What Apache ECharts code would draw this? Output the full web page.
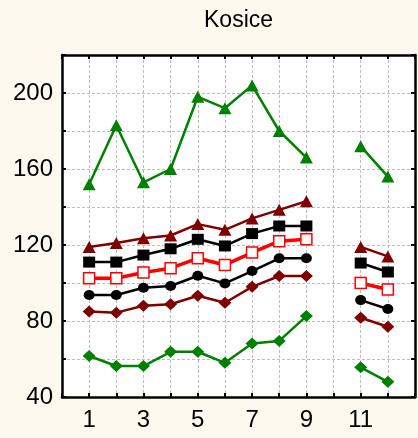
<!DOCTYPE html>
<html><head><meta charset="utf-8">
<script src="https://cdn.jsdelivr.net/npm/echarts@6/dist/echarts.min.js"></script>
<style>html,body{margin:0;padding:0;background:#fdf9ee}#c{width:418px;height:438px}</style>
</head><body><div id="c"></div>
<script>
const months = [1,2,3,4,5,6,7,8,9,10,11,12];
const xTickLabels = [1,3,5,7,9,11];
const yTickLabels = [40,80,120,160,200];
const greenTri   = [152,183,153,160,198,192,204,180,166,null,172,156];
const redTri     = [119,121,123.5,125,131,128,134,138.5,143,null,119,114];
const blackSq    = [111,111,114.7,118,123,119.5,126,130,130,null,110.5,105.8];
const redOpenSq  = [102.5,102.5,105.5,107.8,113,109.5,116,122,123,null,100,96.6];
const blackCirc  = [93.7,93.7,97.5,98.4,103.8,99.8,106.3,113,113,null,91,86.3];
const redDiam    = [85,84.4,88,88.8,93.3,89.6,98,103.7,103.7,null,81.7,77];
const greenDiam  = [61.6,56.3,56.3,63.8,63.8,58,68.2,69.5,82.6,null,55.6,48];

function pairs(vals){ return months.map((m,i)=>[m, vals[i]==null?'-':vals[i]]); }
function mk(name, vals, color, symbol, size, width, fill){
  return {name, type:'line', data:pairs(vals), connectNulls:false, symbol, symbolSize:size,
    lineStyle:{color, width}, itemStyle:{color: fill||color, borderColor:color, borderWidth: fill?1.5:0},
    emphasis:{disabled:true}, animation:false};
}
const chart = echarts.init(document.getElementById('c'));
const font = 'Liberation Sans, Arial, sans-serif';
const axisBase = {
  min:0, max:13, interval:1,
  axisLine:{show:true, onZero:false, lineStyle:{color:'#000', width:2.5}},
  axisTick:{show:true, inside:true, length:4, lineStyle:{color:'#000', width:2}},
};
chart.setOption({
  backgroundColor:'#fdf9ee',
  animation:false,
  title:{text:'Kosice', left:199, top:4,
    textStyle:{fontFamily:font, fontSize:23, fontWeight:'normal', color:'#000'}},
  grid:{left:62, right:-2, top:55, bottom:41, show:true, backgroundColor:'#fff', borderWidth:0},
  xAxis:[
    Object.assign({type:'value', position:'bottom',
      axisLabel:{fontFamily:font, fontSize:24, color:'#000', margin:11,
        formatter:v=> xTickLabels.includes(v)? String(v):''},
      splitLine:{show:true, lineStyle:{color:'#bdbdbd', type:[3,2], width:1}}}, axisBase),
    Object.assign({type:'value', position:'top', axisLabel:{show:false}, splitLine:{show:false}}, axisBase)
  ],
  yAxis:[
    {type:'value', position:'left', min:40, max:220, interval:20,
      axisLine:{show:true, onZero:false, lineStyle:{color:'#000', width:2.5}},
      axisTick:{show:true, inside:true, length:4, lineStyle:{color:'#000', width:2}},
      axisLabel:{fontFamily:font, fontSize:24, color:'#000', margin:9,
        formatter:v=> yTickLabels.includes(v)? String(v):''},
      splitLine:{show:true, lineStyle:{color:'#bdbdbd', type:[3,2], width:1}}},
    {type:'value', position:'right', min:40, max:220, interval:20,
      axisLine:{show:true, onZero:false, lineStyle:{color:'#000', width:2.5}},
      axisTick:{show:true, inside:true, length:4, lineStyle:{color:'#000', width:2}},
      axisLabel:{show:false}, splitLine:{show:false}}
  ],
  series:[
    mk('gt', greenTri, '#008000', 'triangle', [13,12], 2.5),
    mk('rt', redTri, '#800000', 'triangle', [13,12], 2.5),
    mk('bs', blackSq, '#000000', 'rect', [12,11], 2.5),
    mk('ros', redOpenSq, '#ff0000', 'rect', [11,11], 3.5, '#ffffff'),
    mk('bc', blackCirc, '#000000', 'circle', [11,10], 2.5),
    mk('rd', redDiam, '#800000', 'diamond', [13,12], 2.5),
    mk('gd', greenDiam, '#008000', 'diamond', [13,12], 2.5)
  ]
});
</script></body></html>
